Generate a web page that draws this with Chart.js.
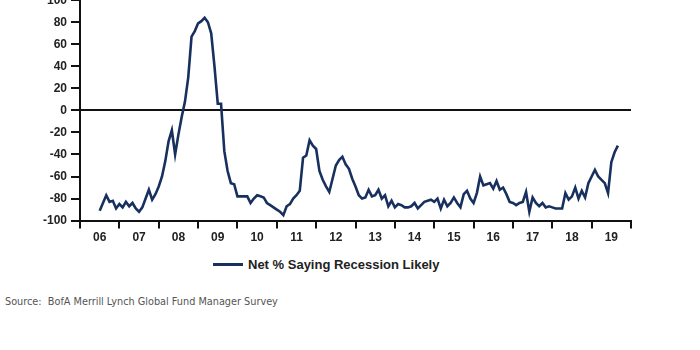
<!DOCTYPE html>
<html>
<head>
<meta charset="utf-8">
<script src="https://cdn.jsdelivr.net/npm/chart.js@4.4.1/dist/chart.umd.min.js"></script>
<style>
  body { margin: 0; background: #fff; width: 700px; height: 350px; overflow: hidden; position: relative; }
  #wrap { position: absolute; left: 0; top: -11px; width: 700px; height: 258px; }
  #legend { position: absolute; left: 213px; top: 257px; font: bold 13px "Liberation Sans", Arial, sans-serif; color: #222; white-space: nowrap; }
  #legend span.sw { display: inline-block; width: 30px; height: 3px; background: #17305e; vertical-align: middle; margin-right: 5px; position: relative; top: -1px; }
  #source { position: absolute; left: 5px; top: 295px; font: 10.8px "Liberation Sans Narrow", "DejaVu Sans Condensed", sans-serif; color: #555; white-space: nowrap; }
</style>
</head>
<body>
<div id="wrap"><canvas id="recessionChart"></canvas></div>
<div id="legend"><span class="sw"></span>Net % Saying Recession Likely</div>
<div id="source">Source:&nbsp; BofA Merrill Lynch Global Fund Manager Survey</div>
<script>
// Pierwszy miesiąc danych (licząc od stycznia 2006)
const firstMonth = 6;
const firstYear = 2006;

// Net % Saying Recession Likely - dane miesięczne
const recessionValues = [
  -91, -84, -77, -83, -82, -89, -85, -88, -83, -87, -84, -89,   // lip 06 - cze 07
  -92, -88, -80, -72, -81, -76, -69, -60, -46, -28, -18, -40,   // lip 07 - cze 08
  -22, -6, 8, 30, 67, 72, 79, 81, 84, 80, 70, 40,               // lip 08 - cze 09
  6, 6, -37, -55, -66, -67, -78, -78, -78, -78, -84, -80,       // lip 09 - cze 10
  -77, -78, -79, -84, -86, -88, -90, -92, -95, -87, -85, -80,   // lip 10 - cze 11
  -77, -73, -43, -41, -27, -32, -35, -55, -63, -69, -74, -62,   // lip 11 - cze 12
  -50, -45, -42, -49, -53, -62, -69, -77, -80, -79, -72, -78,   // lip 12 - cze 13
  -77, -72, -80, -77, -87, -82, -88, -85, -86, -88, -88, -87,   // lip 13 - cze 14
  -84, -89, -86, -83, -82, -81, -83, -80, -89, -81, -87, -84,   // lip 14 - cze 15
  -79, -84, -88, -76, -73, -80, -84, -75, -60, -68, -67, -66,   // lip 15 - cze 16
  -71, -64, -72, -70, -76, -83, -84, -86, -84, -83, -74, -92,   // lip 16 - cze 17
  -79, -84, -87, -84, -88, -87, -88, -89, -89, -89, -75, -81,   // lip 17 - cze 18
  -78, -70, -80, -73, -79, -66, -60, -54, -60, -63, -66, -75,   // lip 18 - cze 19
  -47, -38, -32                                                  // lip 19 - wrz 19
];

// Etykiety lat na osi X
const yearLabels = ['06', '07', '08', '09', '10', '11', '12', '13', '14', '15', '16', '17', '18', '19'];

// Etykiety osi Y
const yTicks = [-100, -80, -60, -40, -20, 0, 20, 40, 60, 80, 100];

const navy = '#17305e';
const tickFont = { family: '"Liberation Sans", Arial, sans-serif', size: 12, weight: 'bold' };

const points = recessionValues.map((v, i) => ({ x: firstYear + (firstMonth + i) / 12, y: v }));

const ctx = document.getElementById('recessionChart').getContext('2d');

const recessionChart = new Chart(ctx, {
    type: 'line',
    data: {
        datasets: [{
            label: 'Net % Saying Recession Likely',
            data: points,
            borderColor: navy,
            borderWidth: 2.6,
            pointRadius: 0,
            tension: 0,
            fill: false
        }]
    },
    options: {
        responsive: true,
        maintainAspectRatio: false,
        animation: false,
        layout: { padding: { left: 39, right: 69, top: 1, bottom: 0 } },
        plugins: {
            legend: { display: false },
            tooltip: { enabled: false }
        },
        scales: {
            x: {
                type: 'linear',
                min: firstYear,
                max: firstYear + yearLabels.length,
                afterBuildTicks: (scale) => {
                    const t = [];
                    for (let i = 0; i <= yearLabels.length * 2; i++) t.push({ value: firstYear + i / 2 });
                    scale.ticks = t;
                },
                ticks: {
                    autoSkip: false,
                    maxRotation: 0,
                    padding: 2,
                    color: '#222',
                    font: tickFont,
                    callback: (v) => {
                        const k = Math.round((v - firstYear) * 2);
                        return k % 2 === 1 ? (yearLabels[(k - 1) / 2] || '') : '';
                    }
                },
                grid: {
                    drawOnChartArea: false,
                    tickLength: 8,
                    lineWidth: 2,
                    tickColor: (c) => (c.tick && Math.round(c.tick.value * 2) % 2 === 0) ? '#111' : 'rgba(0,0,0,0)'
                },
                border: { color: '#111', width: 2 }
            },
            y: {
                min: -100,
                max: 100,
                afterBuildTicks: (scale) => { scale.ticks = yTicks.map(v => ({ value: v })); },
                ticks: {
                    autoSkip: false,
                    padding: 4,
                    color: '#222',
                    font: tickFont
                },
                grid: {
                    drawOnChartArea: true,
                    tickLength: 9,
                    lineWidth: 2,
                    color: (c) => (c.tick && c.tick.value === 0) ? '#111' : 'rgba(0,0,0,0)',
                    tickColor: '#111'
                },
                border: { color: '#111', width: 2 }
            }
        }
    }
});
</script>
</body>
</html>
